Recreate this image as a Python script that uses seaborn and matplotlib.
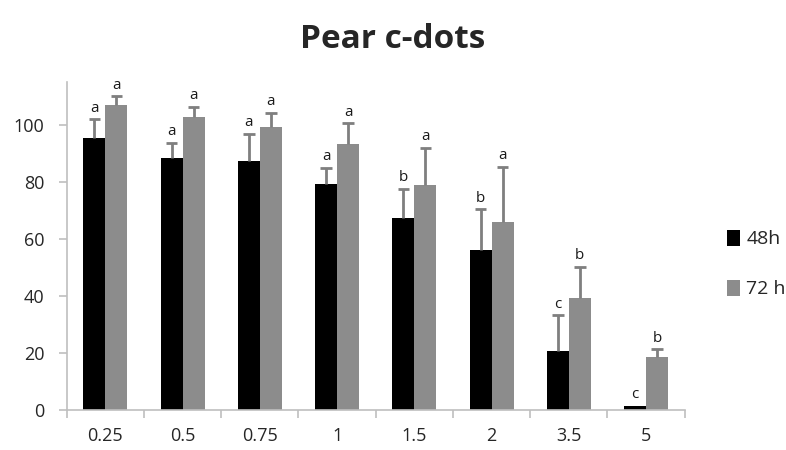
import numpy as np
import pandas as pd
import matplotlib
matplotlib.use("Agg")
import matplotlib.pyplot as plt
import seaborn as sns

doses = ["0.25", "0.5", "0.75", "1", "1.5", "2", "3.5", "5"]
mean_48h = [95.2, 88.4, 87.3, 79.3, 67.2, 55.9, 20.7, 1.5]
sd_48h = [6.7, 5.2, 9.4, 5.6, 10.3, 14.4, 12.5, 0.0]
mean_72h = [107.0, 102.8, 99.1, 93.2, 79.0, 65.8, 39.4, 18.6]
sd_72h = [2.9, 3.5, 5.0, 7.3, 12.8, 19.3, 10.7, 2.6]
letters_48h = ["a", "a", "a", "a", "b", "b", "c", "c"]
letters_72h = ["a", "a", "a", "a", "a", "a", "b", "b"]
series = ["48h", "72 h"]

df = pd.DataFrame({
    "dose": doses * 2,
    "value": mean_48h + mean_72h,
    "time": [series[0]] * len(doses) + [series[1]] * len(doses),
})

sns.set_style("white")
plt.rcParams["font.family"] = ["Open Sans", "DejaVu Sans"]

fig = plt.figure(figsize=(7.86, 4.5), dpi=100)
ax = fig.add_axes([0.085, 0.089, 0.786, 0.729])

sns.barplot(data=df, x="dose", y="value", hue="time", order=doses,
            palette=["#000000", "#8c8c8c"], width=0.57, saturation=1,
            edgecolor="none", ax=ax, errorbar=None)

# error bars (upper only, no bottom cap) and significance letters
n = len(doses)
cap = 0.075
for i, (means, sds, letters) in enumerate([(mean_48h, sd_48h, letters_48h),
                                           (mean_72h, sd_72h, letters_72h)]):
    bars = ax.containers[i]
    xs = [b.get_x() + b.get_width() / 2 for b in bars]
    for x, m, s, lt in zip(xs, means, sds, letters):
        if s > 0:
            ax.vlines(x, m, m + s, color="#7f7f7f", lw=2)
            ax.hlines(m + s, x - cap, x + cap, color="#7f7f7f", lw=2)
        ax.text(x, m + s + 1.3, lt, ha="center", va="bottom", fontsize=11,
                color="#1a1a1a")

ax.set_ylim(0, 115)
ax.set_xlim(-0.5, n - 0.5)
ax.set_yticks([0, 20, 40, 60, 80, 100])
ax.set_xlabel("")
ax.set_ylabel("")
ax.set_xticks(np.arange(-0.5, n, 1.0), minor=True)
ax.tick_params(axis="x", which="major", length=0, pad=12, labelsize=13)
ax.tick_params(axis="x", which="minor", length=6, color="#bfbfbf", width=1.2,
               bottom=True)
ax.tick_params(axis="y", length=6, color="#bfbfbf", width=1.2, left=True,
               labelsize=13, pad=10)

for side in ["top", "right"]:
    ax.spines[side].set_visible(False)
for side in ["left", "bottom"]:
    ax.spines[side].set_color("#bfbfbf")
    ax.spines[side].set_linewidth(1.2)

ax.legend(loc="center left", bbox_to_anchor=(1.04, 0.445), frameon=False,
          fontsize=14, handlelength=0.7, handleheight=0.9, handletextpad=0.3,
          labelspacing=1.6)

fig.suptitle("Pear c-dots", x=0.5, y=0.95, fontsize=24, fontweight="bold")

fig.savefig("out.png", dpi=100)
